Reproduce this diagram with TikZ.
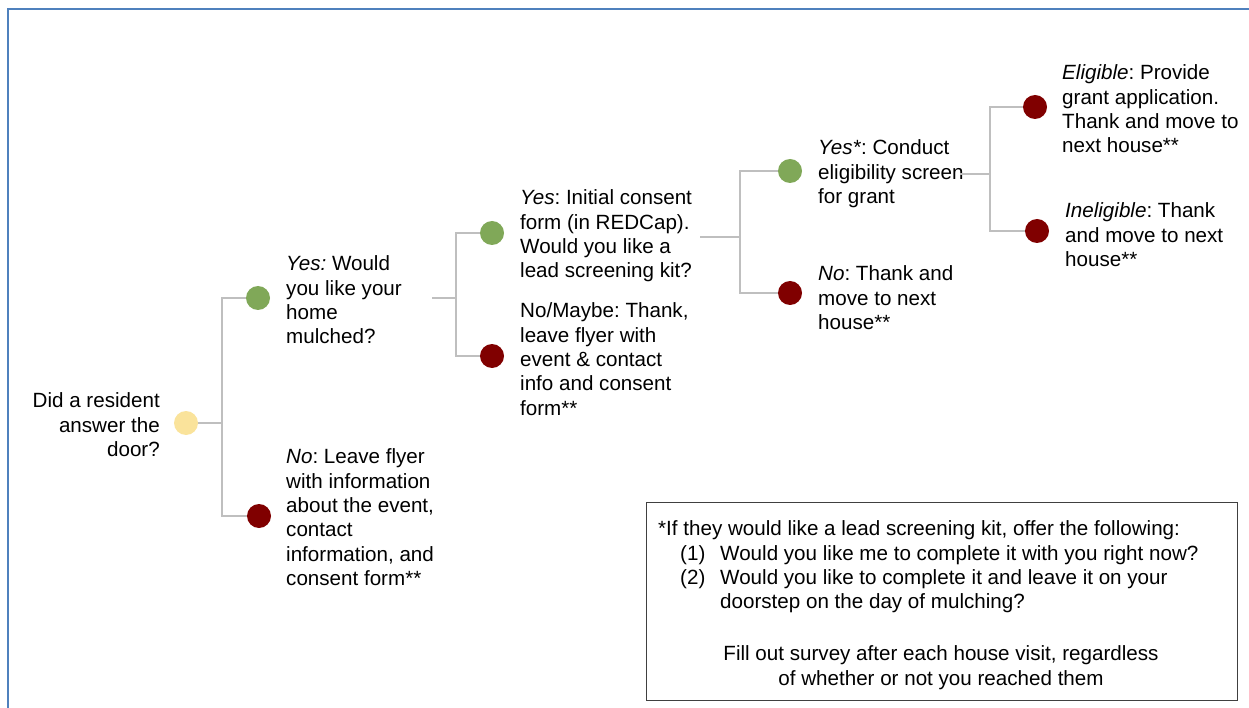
\documentclass[tikz,border=0pt]{standalone}
\usepackage{fontspec}
\setmainfont{Liberation Sans}
\frenchspacing
\definecolor{frameblue}{RGB}{79,129,189}
\definecolor{linkgray}{RGB}{191,191,191}
\definecolor{dotyellow}{RGB}{250,227,155}
\definecolor{dotgreen}{RGB}{128,168,88}
\definecolor{dotred}{RGB}{128,0,0}
\tikzset{
  dot/.style={circle,minimum size=24pt,inner sep=0pt},
  ydot/.style={dot,fill=dotyellow},
  gdot/.style={dot,fill=dotgreen},
  rdot/.style={dot,fill=dotred},
  txt/.style={anchor=north west,align=left,inner sep=0pt,font=\fontsize{20.6}{24.4}\selectfont},
  link/.style={draw=linkgray,line width=1.5pt},
}
\begin{document}
\begin{tikzpicture}[x=1pt,y=-1pt]
\useasboundingbox (0,0) rectangle (1249,708);
\draw[frameblue,line width=2.5pt] (8,708) -- (8,9) -- (1249,9);
\path
(186,423) node[ydot](root){}
(258,298) node[gdot](g1){}
(259,516) node[rdot](r1){}
(492,233) node[gdot](g2){}
(492,356) node[rdot](r2){}
(790,171) node[gdot](g3){}
(790,293) node[rdot](r3){}
(1035,107) node[rdot](elig){}
(1037,231) node[rdot](inel){};
\path
(160,392.5) node[txt,anchor=north east,align=right](door){Did a resident\\answer the\\door?}
(286,255.5) node[txt](yes1){\textit{Yes:} Would\\you like your\\home\\mulched?}
(286,448.5) node[txt](no1){\textit{No}: Leave flyer\\with information\\about the event,\\contact\\information, and\\consent form**}
(520,189.5) node[txt](yes2){\textit{Yes}: Initial consent\\form (in REDCap).\\Would you like a\\lead screening kit?}
(520,302.5) node[txt](no2){No/Maybe: Thank,\\leave flyer with\\event \& contact\\info and consent\\form**}
(818,139.5) node[txt](yes3){\textit{Yes*}: Conduct\\eligibility screen\\for grant}
(818,265.5) node[txt](no3){\textit{No}: Thank and\\move to next\\house**}
(1062,64.5) node[txt](eligtxt){\textit{Eligible}: Provide\\grant application.\\Thank and move to\\next house**}
(1065,202.5) node[txt](ineltxt){\textit{Ineligible}: Thank\\and move to next\\house**};
\coordinate (j1) at (222,423);
\coordinate (s2) at (432,298);
\coordinate (j2) at (456,298);
\coordinate (s3) at (700,237);
\coordinate (j3) at (740,237);
\coordinate (s4) at (960,174);
\coordinate (j4) at (990,174);
\path[link] (root)--(j1);
\path[link] (j1)|-(g1);
\path[link] (j1)|-(r1);
\path[link] (s2)--(j2);
\path[link] (j2)|-(g2);
\path[link] (j2)|-(r2);
\path[link] (s3)--(j3);
\path[link] (j3)|-(g3);
\path[link] (j3)|-(r3);
\path[link] (s4)--(j4);
\path[link] (j4)|-(elig);
\path[link] (j4)|-(inel);
% note box
\node[draw=black!75,line width=1.2pt,anchor=north west,minimum width=591pt,minimum height=198pt,inner sep=0pt] (note) at (646,502) {};
\path
(658,520.5) node[txt](kit){*If they would like a lead screening kit, offer the following:\\
\hspace*{22pt}\makebox[40pt][l]{(1)}Would you like me to complete it with you right now?\\
\hspace*{22pt}\makebox[40pt][l]{(2)}Would you like to complete it and leave it on your\\
\hspace*{62pt}doorstep on the day of mulching?}
(941,645.5) node[txt,anchor=north,align=center](survey){Fill out survey after each house visit, regardless\\of whether or not you reached them};
\end{tikzpicture}
\end{document}
